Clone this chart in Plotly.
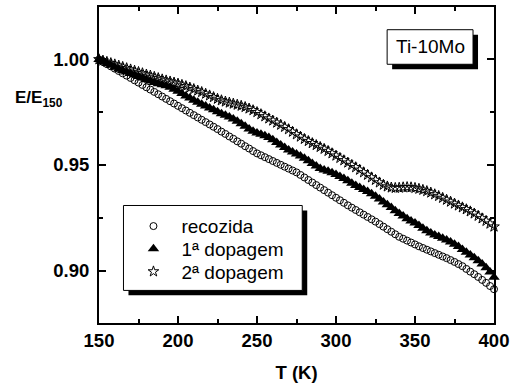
import plotly.graph_objects as go

T = [150, 152.5, 155, 157.5, 160, 162.5, 165, 167.5, 170, 172.5,
     175, 177.5, 180, 182.5, 185, 187.5, 190, 192.5, 195, 197.5,
     200, 202.5, 205, 207.5, 210, 212.5, 215, 217.5, 220, 222.5,
     225, 227.5, 230, 232.5, 235, 237.5, 240, 242.5, 245, 247.5,
     250, 252.5, 255, 257.5, 260, 262.5, 265, 267.5, 270, 272.5,
     275, 277.5, 280, 282.5, 285, 287.5, 290, 292.5, 295, 297.5,
     300, 302.5, 305, 307.5, 310, 312.5, 315, 317.5, 320, 322.5,
     325, 327.5, 330, 332.5, 335, 337.5, 340, 342.5, 345, 347.5,
     350, 352.5, 355, 357.5, 360, 362.5, 365, 367.5, 370, 372.5,
     375, 377.5, 380, 382.5, 385, 387.5, 390, 392.5, 395, 397.5, 400]

recozida = [1.0000, 0.9989, 0.9978, 0.9967, 0.9956, 0.9945, 0.9934, 0.9923, 0.9912, 0.9901,
            0.9890, 0.9879, 0.9868, 0.9857, 0.9846, 0.9835, 0.9824, 0.9813, 0.9802, 0.9791,
            0.9780, 0.9769, 0.9758, 0.9747, 0.9736, 0.9725, 0.9714, 0.9703, 0.9692, 0.9681,
            0.9670, 0.9658, 0.9647, 0.9635, 0.9624, 0.9612, 0.9601, 0.9589, 0.9578, 0.9566,
            0.9555, 0.9546, 0.9537, 0.9528, 0.9519, 0.9510, 0.9501, 0.9492, 0.9483, 0.9474,
            0.9465, 0.9453, 0.9441, 0.9429, 0.9417, 0.9405, 0.9393, 0.9381, 0.9369, 0.9357,
            0.9345, 0.9333, 0.9321, 0.9309, 0.9298, 0.9287, 0.9276, 0.9265, 0.9254, 0.9243,
            0.9232, 0.9220, 0.9208, 0.9196, 0.9184, 0.9172, 0.9160, 0.9151, 0.9142, 0.9133,
            0.9124, 0.9115, 0.9107, 0.9099, 0.9091, 0.9083, 0.9075, 0.9067, 0.9059, 0.9050,
            0.9041, 0.9031, 0.9021, 0.9008, 0.8995, 0.8983, 0.8970, 0.8956, 0.8942, 0.8927, 0.8912]

dopagem1 = [1.0000, 0.9990, 0.9981, 0.9972, 0.9963, 0.9955, 0.9947, 0.9940, 0.9933, 0.9926,
            0.9919, 0.9912, 0.9905, 0.9898, 0.9891, 0.9885, 0.9880, 0.9875, 0.9868, 0.9859,
            0.9849, 0.9838, 0.9827, 0.9817, 0.9807, 0.9797, 0.9788, 0.9779, 0.9770, 0.9761,
            0.9752, 0.9743, 0.9735, 0.9727, 0.9718, 0.9707, 0.9695, 0.9683, 0.9671, 0.9660,
            0.9652, 0.9645, 0.9638, 0.9630, 0.9619, 0.9607, 0.9595, 0.9583, 0.9571, 0.9561,
            0.9552, 0.9543, 0.9532, 0.9520, 0.9507, 0.9495, 0.9484, 0.9476, 0.9470, 0.9463,
            0.9455, 0.9446, 0.9436, 0.9425, 0.9414, 0.9403, 0.9393, 0.9384, 0.9375, 0.9364,
            0.9352, 0.9339, 0.9325, 0.9312, 0.9299, 0.9283, 0.9270, 0.9258, 0.9246, 0.9235,
            0.9225, 0.9213, 0.9201, 0.9189, 0.9178, 0.9169, 0.9161, 0.9153, 0.9145, 0.9136,
            0.9125, 0.9114, 0.9100, 0.9087, 0.9074, 0.9061, 0.9047, 0.9031, 0.9013, 0.8993, 0.8968]

dopagem2 = [1.0000, 0.9994, 0.9988, 0.9982, 0.9976, 0.9970, 0.9964, 0.9958, 0.9952, 0.9946,
            0.9940, 0.9934, 0.9928, 0.9923, 0.9917, 0.9911, 0.9905, 0.9900, 0.9895, 0.9890,
            0.9885, 0.9879, 0.9873, 0.9866, 0.9859, 0.9852, 0.9845, 0.9837, 0.9829, 0.9821,
            0.9813, 0.9806, 0.9800, 0.9795, 0.9790, 0.9785, 0.9780, 0.9774, 0.9767, 0.9759,
            0.9750, 0.9740, 0.9730, 0.9720, 0.9710, 0.9700, 0.9690, 0.9680, 0.9669, 0.9657,
            0.9645, 0.9634, 0.9623, 0.9613, 0.9603, 0.9594, 0.9585, 0.9576, 0.9566, 0.9555,
            0.9544, 0.9533, 0.9522, 0.9511, 0.9500, 0.9489, 0.9477, 0.9465, 0.9453, 0.9441,
            0.9429, 0.9417, 0.9406, 0.9398, 0.9393, 0.9391, 0.9392, 0.9394, 0.9395, 0.9394,
            0.9391, 0.9387, 0.9382, 0.9376, 0.9369, 0.9361, 0.9353, 0.9344, 0.9335, 0.9326,
            0.9317, 0.9308, 0.9299, 0.9290, 0.9280, 0.9270, 0.9259, 0.9247, 0.9235, 0.9222, 0.9208]

series_names = ["recozida", "1ª dopagem", "2ª dopagem"]
x_ticks = [150, 200, 250, 300, 350, 400]
y_ticks = [0.90, 0.95, 1.00]

FONT = "Liberation Sans, Arial, sans-serif"

fig = go.Figure()
fig.add_trace(go.Scatter(x=T, y=recozida, mode="markers", name=series_names[0],
                         cliponaxis=False, legend="legend",
                         marker=dict(symbol="circle-open", size=7, color="black",
                                     line=dict(width=1, color="black"))))
fig.add_trace(go.Scatter(x=T, y=dopagem1, mode="markers", name=series_names[1],
                         cliponaxis=False, legend="legend2",
                         marker=dict(symbol="triangle-up", size=10, color="black")))
fig.add_trace(go.Scatter(x=T, y=dopagem2, mode="markers", name=series_names[2],
                         cliponaxis=False, legend="legend3",
                         marker=dict(symbol="star-open", size=8, color="black",
                                     line=dict(width=1, color="black"))))

axis_common = dict(
    showline=True, linecolor="black", linewidth=2, mirror="allticks",
    ticks="inside", ticklen=7, tickwidth=1.5, tickcolor="black",
    showgrid=False, zeroline=False,
    tickfont=dict(family=FONT, size=18.5, color="black", weight="bold"),
)

fig.update_xaxes(range=[150, 400], tickvals=x_ticks,
                 minor=dict(dtick=25, tick0=150, ticks="inside", ticklen=4, tickwidth=1.5, tickcolor="black"),
                 title=dict(text="<b>T (K)</b>", font=dict(family=FONT, size=18.5, color="black"), standoff=16),
                 **axis_common)
fig.update_yaxes(range=[0.8752, 1.0248], tickvals=y_ticks, tickformat=".2f",
                 minor=dict(dtick=0.025, tick0=0.9, ticks="inside", ticklen=4, tickwidth=1.5, tickcolor="black"),
                 ticklabelstandoff=4,
                 **axis_common)

def px_x(p):
    return (p - 98.5) / 395.5

def px_y(p):
    return (325 - p) / 320

shapes = [
    dict(type="rect", xref="paper", yref="paper", x0=px_x(128), x1=px_x(307), y0=px_y(297), y1=px_y(211),
         fillcolor="black", line=dict(width=0), layer="above"),
    dict(type="rect", xref="paper", yref="paper", x0=px_x(123), x1=px_x(302), y0=px_y(292), y1=px_y(206),
         fillcolor="white", line=dict(width=1, color="black"), layer="above"),
    dict(type="rect", xref="paper", yref="paper", x0=px_x(392), x1=px_x(478), y0=px_y(68), y1=px_y(33),
         fillcolor="black", line=dict(width=0), layer="above"),
    dict(type="rect", xref="paper", yref="paper", x0=px_x(387), x1=px_x(473), y0=px_y(63), y1=px_y(28),
         fillcolor="white", line=dict(width=1, color="black"), layer="above"),
]

annotations = [
    dict(text="Ti-10Mo", xref="paper", yref="paper", x=px_x(430), y=px_y(45.5),
         xanchor="center", yanchor="middle", showarrow=False,
         font=dict(family=FONT, size=19, color="black")),
    dict(text="<b>E/E<sub>150</sub></b>", xref="paper", yref="paper", x=px_x(12), y=px_y(98),
         xanchor="left", yanchor="middle", showarrow=False,
         font=dict(family=FONT, size=17, color="black")),
]

def leg(ycenter):
    return dict(x=px_x(125), y=px_y(ycenter), xanchor="left", yanchor="middle",
                bgcolor="rgba(0,0,0,0)", borderwidth=0, itemwidth=46,
                font=dict(family=FONT, size=19, color="black"))

fig.update_layout(
    width=514, height=385,
    margin=dict(l=98.5, r=20, t=5, b=60),
    paper_bgcolor="white", plot_bgcolor="white",
    shapes=shapes, annotations=annotations,
    showlegend=True,
    legend=leg(227), legend2=leg(250), legend3=leg(273),
    font=dict(family=FONT, color="black"),
)

fig.write_html("out.html", config={"displayModeBar": False},
               post_script="document.body.style.margin='0';document.body.style.padding='0';")
